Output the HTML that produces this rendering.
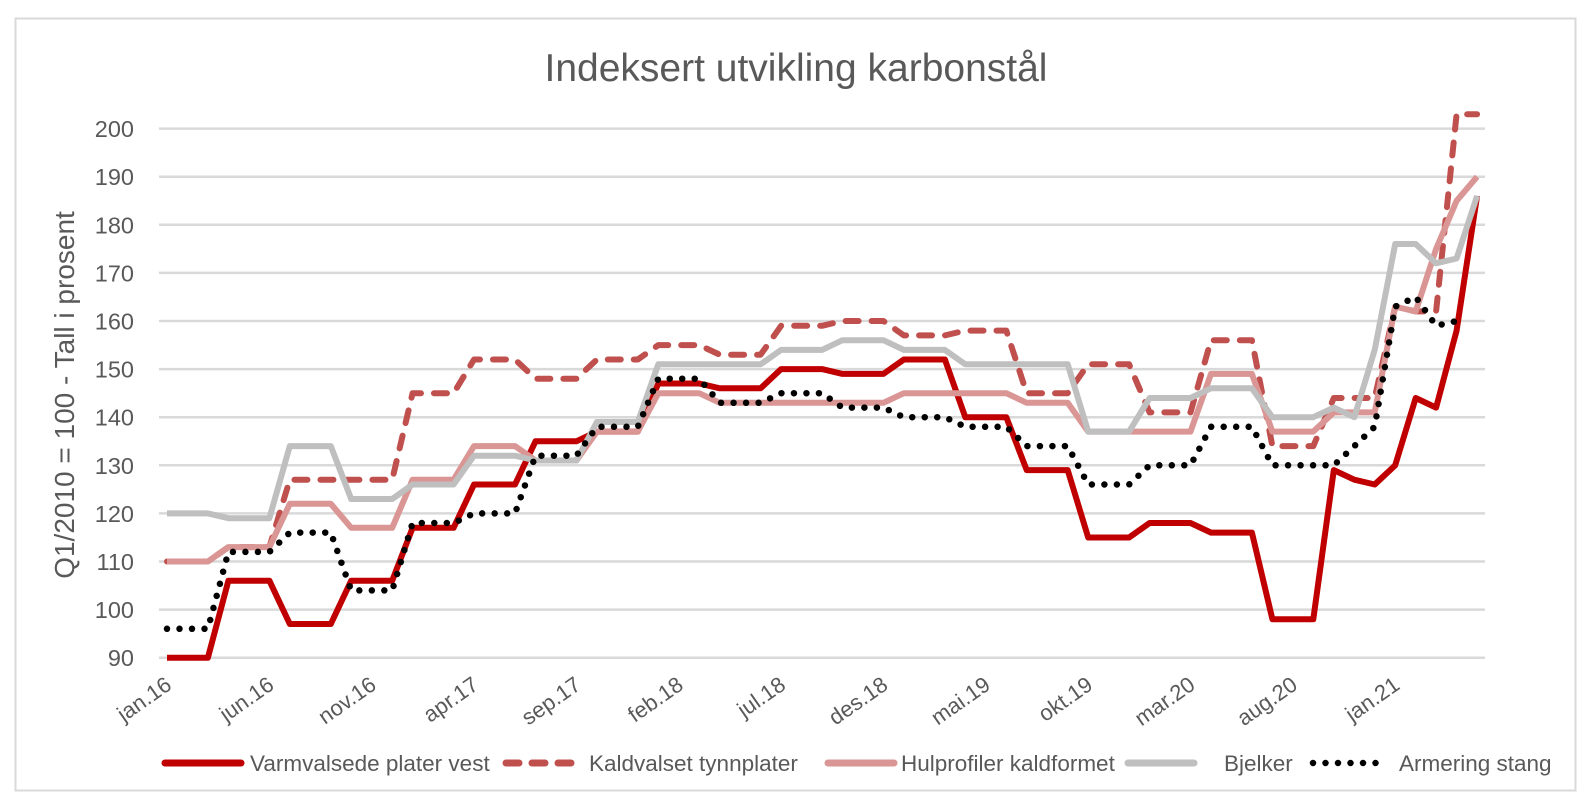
<!DOCTYPE html>
<html><head><meta charset="utf-8"><style>
html,body{margin:0;padding:0;background:#fff;}
svg{display:block;font-family:"Liberation Sans",sans-serif;}
</style></head><body>
<svg id="c" width="1592" height="806" viewBox="0 0 1592 806" xmlns="http://www.w3.org/2000/svg">
<rect x="0" y="0" width="1592" height="806" fill="#fff"/>
<rect x="15.5" y="18.5" width="1560" height="772" fill="none" stroke="#d9d9d9" stroke-width="2"/>
<text x="796" y="81" text-anchor="middle" font-size="39" fill="#595959">Indeksert utvikling karbonstål</text>
<text transform="translate(74,395) rotate(-90)" text-anchor="middle" font-size="28" fill="#595959">Q1/2010 = 100 - Tall i prosent</text>
<g id="grid"></g>
<g id="series"></g>
<g id="xl" font-size="22" fill="#595959"></g>
<g font-size="22.5" fill="#595959">
<line x1="165" y1="763" x2="241" y2="763" stroke="#C00000" stroke-width="7" stroke-linecap="round"/>
<text x="250" y="771">Varmvalsede plater vest</text>
<line x1="506" y1="763" x2="574" y2="763" stroke="#C0504D" stroke-width="7" stroke-linecap="round" stroke-dasharray="13 13"/>
<text x="589" y="771">Kaldvalset tynnplater</text>
<line x1="828" y1="763" x2="894" y2="763" stroke="#DA9694" stroke-width="7" stroke-linecap="round"/>
<text x="901" y="771">Hulprofiler kaldformet</text>
<line x1="1128" y1="763" x2="1194" y2="763" stroke="#BFBFBF" stroke-width="7" stroke-linecap="round"/>
<text x="1224" y="771">Bjelker</text>
<line x1="1313" y1="763" x2="1382" y2="763" stroke="#000" stroke-width="6.5" stroke-linecap="round" stroke-dasharray="0 12.5"/>
<text x="1399" y="771">Armering stang</text>
</g>
</svg>
<script>
var NS="http://www.w3.org/2000/svg";
function Y(v){return 657.7-(v-90)*4.81;}
function X(i){return 167+i*20.47;}
var g=document.getElementById('grid');
for(var v=90;v<=200;v+=10){
 var l=document.createElementNS(NS,'line');
 l.setAttribute('x1',159);l.setAttribute('x2',1485);l.setAttribute('y1',Y(v));l.setAttribute('y2',Y(v));
 l.setAttribute('stroke','#d9d9d9');l.setAttribute('stroke-width','2.5');g.appendChild(l);
 var t=document.createElementNS(NS,'text');
 t.setAttribute('x',134);t.setAttribute('y',Y(v)+8.5);t.setAttribute('text-anchor','end');
 t.setAttribute('font-size','23.5');t.setAttribute('fill','#595959');t.textContent=v;g.appendChild(t);
}
function build(q,m){var a=[];q.forEach(function(v){a.push(v,v,v);});return a.concat(m);}
var S=[
 [build([90,106,97,106,117,126,135,137,147,146,150,149,152,140,129,115,118,116,98],[129,127,126,130,144,142,158,186]),'#C00000',''],
 [build([110,113,127,127,145,152,148,152,155,153,159,160,157,158,145,151,141,156,134],[144,144,144,163,162,162,203,203]),'#C0504D','13 13'],
 [build([110,113,122,117,127,134,131,137,145,143,143,143,145,145,143,137,137,149,137],[141,141,141,163,162,175,185,190]),'#DA9694',''],
 [build([120,119,134,123,126,132,131,139,151,151,154,156,154,151,151,137,144,146,140],[142,140,154,176,176,172,173,186]),'#BFBFBF',''],
 [build([96,112,116,104,118,120,132,138,148,143,145,142,140,138,134,126,130,138,130],[130,134,138,163,165,159,160]),'#000','0 12.5']
];
var sg=document.getElementById('series');
S.forEach(function(s){
 var d=s[0].map(function(v,i){return (i?'L':'M')+X(i).toFixed(1)+' '+Y(v).toFixed(1);}).join(' ');
 var p=document.createElementNS(NS,'path');
 p.setAttribute('d',d);p.setAttribute('fill','none');p.setAttribute('stroke',s[1]);
 p.setAttribute('stroke-width',s[2]=='0 12.5'?'6.5':'6');p.setAttribute('stroke-linejoin','round');
 p.setAttribute('stroke-linecap',s[2]?'round':'butt');
 if(s[2])p.setAttribute('stroke-dasharray',s[2]);
 sg.appendChild(p);
});
var labs=['jan.16','jun.16','nov.16','apr.17','sep.17','feb.18','jul.18','des.18','mai.19','okt.19','mar.20','aug.20','jan.21'];
var xl=document.getElementById('xl');
labs.forEach(function(s,k){
 var t=document.createElementNS(NS,'text');
 var x=X(k*5)+6,y=688;
 t.setAttribute('transform','translate('+x+','+y+') rotate(-35)');
 t.setAttribute('text-anchor','end');t.textContent=s;xl.appendChild(t);
});
</script>
</body></html>
